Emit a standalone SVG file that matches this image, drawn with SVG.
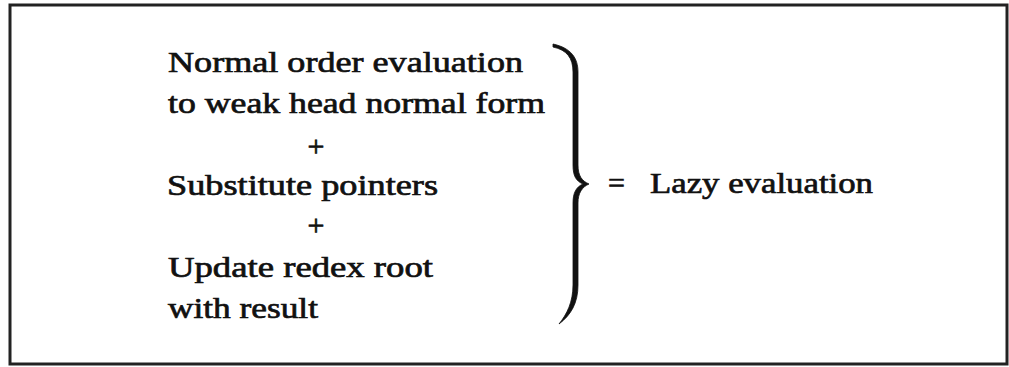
<svg xmlns="http://www.w3.org/2000/svg" width="1009" height="367" viewBox="0 0 1009 367">
<style>
.t{font-family:"Liberation Serif","Times New Roman",serif;font-size:30px;fill:#111;stroke:#111;stroke-width:0.7}
</style>
<rect width="1009" height="367" fill="#fff"/>
<rect id="frame" x="10" y="5" width="997" height="359" fill="none" stroke="#222" stroke-width="3"/>
<g id="components">
<text class="t" x="168" y="72" textLength="355" lengthAdjust="spacingAndGlyphs">Normal order evaluation</text>
<text class="t" x="168" y="113" textLength="377" lengthAdjust="spacingAndGlyphs">to weak head normal form</text>
<text class="t" x="316" y="156" text-anchor="middle">+</text>
<text class="t" x="167" y="195" textLength="271" lengthAdjust="spacingAndGlyphs">Substitute pointers</text>
<text class="t" x="316" y="235" text-anchor="middle">+</text>
<text class="t" x="168" y="277" textLength="265" lengthAdjust="spacingAndGlyphs">Update redex root</text>
<text class="t" x="168" y="318" textLength="150" lengthAdjust="spacingAndGlyphs">with result</text>
</g>
<g id="connectors">
<path d="M553,44 C571,48 578,58 578,72 L578,165 C578,176 582,181 589,184 C582,187 578,193 578,203 L578,285 C578,303 571,315 559,324 C567,314 573,302 573,285 L573,203 C573,193 576,187 583,184 C576,181 573,176 573,165 L573,72 C573,58 567,50 553,47 Z" fill="#111" stroke="#111" stroke-width="0.8" stroke-linejoin="round"/>
</g>
<g id="result">
<text class="t" x="608" y="193">=</text>
<text class="t" x="650" y="193" textLength="223" lengthAdjust="spacingAndGlyphs">Lazy evaluation</text>
</g>
</svg>
